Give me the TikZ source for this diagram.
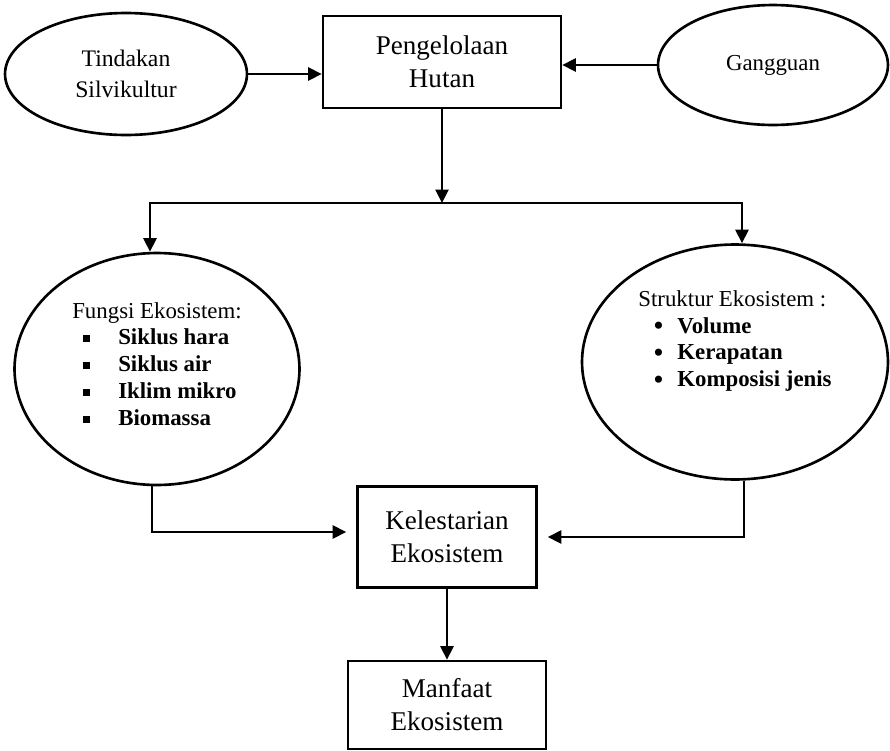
\documentclass[tikz,border=0pt]{standalone}
\usepackage{fontspec}
\setmainfont{Liberation Serif}
\usetikzlibrary{shapes.geometric,arrows.meta}
\newcommand{\kotakkecil}{\rule[0.06cm]{0.13cm}{0.13cm}}
\newcommand{\bulat}{\smash{\raisebox{-0.05cm}{\scalebox{1.3}{\textbullet}}}}
\begin{document}
\begin{tikzpicture}[x=0.02cm, y=-0.02cm, line width=1.5pt,
  kotak/.style={draw, rectangle, align=center, font=\fontsize{15.4}{18.8}\selectfont},
  elips/.style={draw, ellipse, inner sep=0pt, align=center, font=\fontsize{13}{14.5}\selectfont},
  isi/.style={align=left, inner sep=0pt, font=\fontsize{13}{15.3}\selectfont},
  panah/.style={-{Triangle[length=0.27cm, width=0.26cm]}}]
\useasboundingbox (0,0) rectangle (890,751);
% baris atas
\node[elips, minimum width=4.84cm, minimum height=2.44cm, font=\fontsize{13.5}{17.5}\selectfont] (tindakan) at (126,74) {Tindakan\\Silvikultur};
\node[kotak, minimum width=4.76cm, minimum height=1.84cm] (hutan) at (442,62) {Pengelolaan\\Hutan};
\node[elips, minimum width=4.6cm, minimum height=2.4cm] (gangguan) at (773,65) {Gangguan};
% ekosistem
\node[elips, minimum width=5.7cm, minimum height=4.64cm] (fungsi) at (157,369) {};
\node[isi] (fungsi-isi) at ([yshift=0.1cm]fungsi.center) {Fungsi Ekosistem:\\
  \hspace*{0.22cm}\makebox[0.7cm][l]{\kotakkecil}\textbf{Siklus hara}\\
  \hspace*{0.22cm}\makebox[0.7cm][l]{\kotakkecil}\textbf{Siklus air}\\
  \hspace*{0.22cm}\makebox[0.7cm][l]{\kotakkecil}\textbf{Iklim mikro}\\
  \hspace*{0.22cm}\makebox[0.7cm][l]{\kotakkecil}\textbf{Biomassa}};
\node[elips, minimum width=6.12cm, minimum height=4.7cm] (struktur) at (735,362) {};
\node[isi] (struktur-isi) at ([yshift=0.42cm]struktur.center) {Struktur Ekosistem :\\
  \hspace*{0.3cm}\makebox[0.48cm][l]{\bulat}\textbf{Volume}\\
  \hspace*{0.3cm}\makebox[0.48cm][l]{\bulat}\textbf{Kerapatan}\\
  \hspace*{0.3cm}\makebox[0.48cm][l]{\bulat}\textbf{Komposisi jenis}};
% baris bawah
\node[kotak, minimum width=3.58cm, minimum height=2.02cm] (lestari) at (447,537) {Kelestarian\\Ekosistem};
\node[kotak, minimum width=3.96cm, minimum height=1.76cm] (manfaat) at (447,705) {Manfaat\\Ekosistem};
\coordinate (cabang) at (442,203);
\coordinate (kiri) at (150,203);
\coordinate (kanan) at (742,203);
\draw[panah] (tindakan.east) -- (tindakan.east -| hutan.west);
\draw[panah] (gangguan.west) -- (gangguan.west -| hutan.east);
\draw[panah] (hutan.south) -- (cabang);
\draw[panah] (cabang) -- (kiri) -- (kiri |- fungsi.north);
\draw[panah] (cabang) -- (kanan) -- (kanan |- struktur.north);
\draw[panah, shorten >=0.2cm] ([xshift=-0.1cm]fungsi.south) |- ([yshift=0.1cm]lestari.west);
\draw[panah, shorten >=0.2cm] ([xshift=0.18cm]struktur.south) |- (lestari.east);
\draw[panah] (lestari.south) -- (manfaat.north);
\end{tikzpicture}
\end{document}
